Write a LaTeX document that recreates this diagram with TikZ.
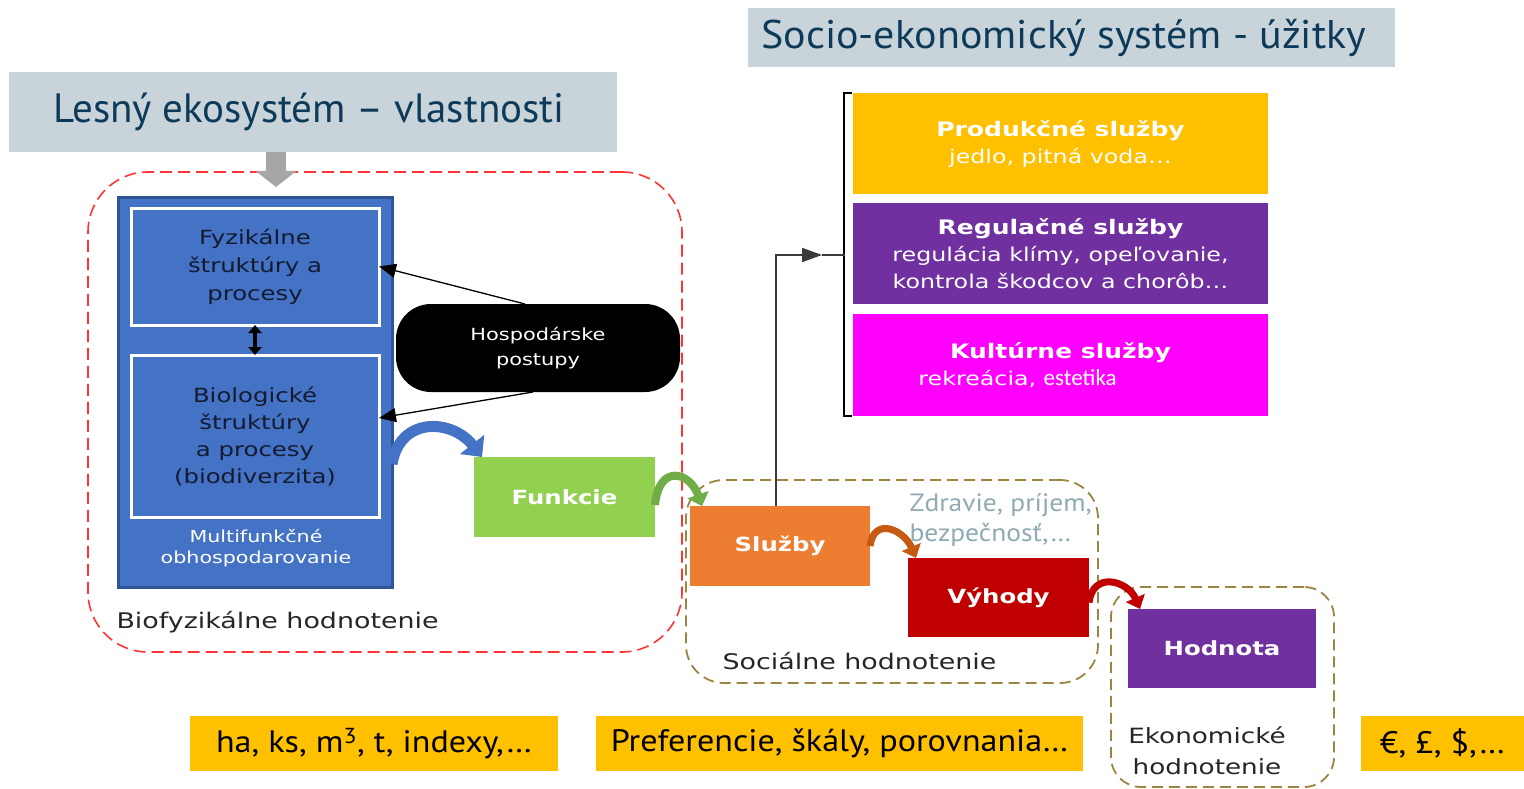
\documentclass[tikz,border=0pt]{standalone}
\usepackage{fontspec}
\setmainfont{DejaVu Sans}
\newfontfamily\bx[FakeStretch=1.25]{DejaVu Sans}
\newfontfamily\nar{PT Sans}
\newfontfamily\narb[FakeStretch=1.05]{PT Sans}
\newfontfamily\naru[FakeStretch=1.1]{PT Sans}
\newfontfamily\calfont{Carlito}
\usetikzlibrary{arrows.meta}
\definecolor{titlebg}{HTML}{C8D4D9}
\definecolor{titlec}{HTML}{0E3A5A}
\definecolor{arrgray}{HTML}{A6A6A6}
\definecolor{reddash}{HTML}{FF3535}
\definecolor{blue1}{HTML}{4472C4}
\definecolor{blue2}{HTML}{2F5597}
\definecolor{innert}{HTML}{141A30}
\definecolor{greenc}{HTML}{92D050}
\definecolor{greena}{HTML}{70AD47}
\definecolor{orangec}{HTML}{ED7D31}
\definecolor{orangea}{HTML}{C55A11}
\definecolor{redc}{HTML}{C00000}
\definecolor{purplec}{HTML}{7030A0}
\definecolor{magc}{HTML}{FF00FF}
\definecolor{prodc}{HTML}{FFC000}
\definecolor{olive}{HTML}{9C8540}
\definecolor{zdc}{HTML}{8FAAB3}
\definecolor{darkt}{HTML}{262626}
\definecolor{linec}{HTML}{3A3A3A}
\begin{document}
\begin{tikzpicture}[x=1pt,y=-1pt,
  box/.style={rectangle, inner sep=0pt, outer sep=0pt},
  title/.style={box, fill=titlebg, text=titlec},
  inner/.style={box, fill=blue1, draw=white, line width=3pt, text=innert, align=center},
  colbox/.style={box, text=white, font=\bx\bfseries\fontsize{19.5}{22}\selectfont},
  svc/.style={box, text=white, align=center, minimum width=415pt, minimum height=101pt, font=\bx\fontsize{19}{27}\selectfont},
  unit/.style={box, fill=prodc, minimum height=55pt, text=black, font=\naru\fontsize{31}{36}\selectfont},
  olivebox/.style={box, draw=olive, line width=1.8pt, dash pattern=on 11pt off 6pt},
  curv/.style={line width=7pt, -{Triangle[width=20pt,length=12pt]}},
  blk/.style={line width=1.3pt, black, -{Triangle[width=14pt,length=17pt]}},
  lbl/.style={text=darkt, font=\bx\fontsize{21.5}{24}\selectfont}
]
\useasboundingbox (0,0) rectangle (1524,789);
\fill[white] (0,0) rectangle (1524,789);

% titles
\node[title, minimum width=608pt, minimum height=80pt, font=\nar\fontsize{41}{48}\selectfont] (t1) at (313,112) {Lesný ekosystém – vlastnosti\hspace*{8pt}};
\node[title, minimum width=647pt, minimum height=59pt, font=\narb\fontsize{40}{48}\selectfont] (t2) at (1071.5,37.5) {Socio-ekonomický systém - úžitky\hspace*{16pt}};

% biophysical frame
\node[box, draw=reddash, line width=1.6pt, dash pattern=on 12pt off 6pt, rounded corners=60pt, minimum width=594pt, minimum height=480pt] (bioframe) at (385,412) {};
\coordinate (gtip) at (276,187);
\draw[line width=20pt, draw=arrgray, -{Triangle[width=40pt,length=16pt]}] ([xshift=-37pt]t1.south) -- (gtip);

\node[box, fill=blue1, draw=blue2, line width=3pt, minimum width=274pt, minimum height=390pt] (blue) at (255,392) {};
\node[inner, minimum width=248pt, minimum height=117pt, font=\bx\fontsize{19.5}{28}\selectfont] (fyz) at (255,266.5) {Fyzikálne\\štruktúry a\\procesy};
\node[inner, minimum width=248pt, minimum height=162pt, font=\bx\fontsize{19.5}{27}\selectfont] (bio) at (255,436) {Biologické\\štruktúry\\a procesy\\(biodiverzita)};
\node[box, text=white, align=center, font=\bx\fontsize{16.5}{21}\selectfont] (multi) at (256,548) {Multifunkčné\\obhospodarovanie};
\draw[line width=4pt, black, {Triangle[width=13pt,length=8pt]}-{Triangle[width=13pt,length=8pt]}] (fyz.south) -- (bio.north);

\node[box, fill=black, rounded corners=35pt, minimum width=284pt, minimum height=88pt, text=white, align=center, font=\bx\fontsize{16.7}{25}\selectfont] (hosp) at (538,348) {Hospodárske\\postupy};
\draw[blk] ([xshift=-13pt]hosp.north) -- (fyz.east);
\draw[blk] ([xshift=-5pt]hosp.south) -- ([yshift=18pt]bio.east);

\node[lbl, anchor=west] (biolab) at (113,622) {Biofyzikálne hodnotenie};

\node[colbox, fill=greenc, minimum width=181pt, minimum height=80pt] (funk) at (564.5,497) {Funkcie};
\draw[blue1, line width=11pt, -{Triangle[width=30pt,length=16pt]}] ([yshift=-72pt]blue.east) .. controls +(8,-48) and +(-30,-38) .. ([xshift=8pt]funk.north west);

% social frame
\node[olivebox, rounded corners=38pt, minimum width=412pt, minimum height=203pt] (socframe) at (892,581.5) {};
\node[colbox, fill=orangec, minimum width=180pt, minimum height=80pt] (sluzby) at (780,546) {Služby};
\node[colbox, fill=redc, minimum width=181pt, minimum height=79pt] (vyhody) at (998.5,597.5) {Výhody};
\node[lbl, anchor=west] (soclab) at (719,661) {Sociálne hodnotenie};
\node[anchor=west, align=left, text=zdc, font=\naru\fontsize{25}{30}\selectfont] (zdr) at (906,520) {Zdravie, príjem,\\bezpečnosť,…};

% economic frame
\node[olivebox, rounded corners=30pt, minimum width=223pt, minimum height=200pt] (ecoframe) at (1222.5,687) {};
\node[colbox, fill=purplec, minimum width=188pt, minimum height=79pt] (hodnota) at (1222,648.5) {Hodnota};
\node[lbl, align=center, font=\bx\fontsize{21}{31}\selectfont] (ekolab) at (1207,751) {Ekonomické\\hodnotenie};

% curved arrows
\draw[curv, greena, line width=8pt, -{Triangle[width=22pt,length=12pt]}] ([yshift=-8pt]funk.east) .. controls +(4,-42) and +(-12,-34) .. ([xshift=12pt]sluzby.north west);
\draw[curv, orangea] (sluzby.east) .. controls +(4,-30) and +(-12,-28) .. ([xshift=8pt]vyhody.north west);
\draw[curv, redc] ([yshift=-5pt]vyhody.east) .. controls +(4,-32) and +(-12,-28) .. ([xshift=12pt]hodnota.north west);

% services
\node[svc, fill=prodc] (prod) at (1060.5,143.5) {{\fontsize{20}{27}\selectfont\bfseries Produkčné služby}\\jedlo, pitná voda…};
\node[svc, fill=purplec] (reg) at (1060.5,253.5) {{\fontsize{20}{27}\selectfont\bfseries Regulačné služby}\\regulácia klímy, opeľovanie,\\kontrola škodcov a chorôb…};
\node[svc, fill=magc, minimum height=102pt] (kult) at (1060.5,365) {{\fontsize{20}{27}\selectfont\bfseries Kultúrne služby}\\\hspace*{-86pt}rekreácia, {\calfont\fontsize{23}{27}\selectfont estetika}};
\draw[line width=2pt, black] ([xshift=-1pt]prod.north west) -- ++(-8,0) |- ([xshift=-1pt]kult.south west);
\coordinate (brk) at (845,255);
\coordinate (atip) at (822,255);
\draw[line width=1.8pt, linec, -{Triangle[width=14pt,length=20pt]}] ([xshift=-4pt]sluzby.north) |- (atip);
\draw[line width=1.8pt, linec] (atip) -- (brk);

% units
\node[unit, minimum width=368pt] (u1) at (374,743.5) {ha, ks, m\textsuperscript{3}, t, indexy,…};
\node[unit, minimum width=487pt] (u2) at (839.5,743.5) {Preferencie, škály, porovnania…};
\node[unit, minimum width=163pt] (u3) at (1442.5,743.5) {€, £, \$,…};
\end{tikzpicture}
\end{document}
